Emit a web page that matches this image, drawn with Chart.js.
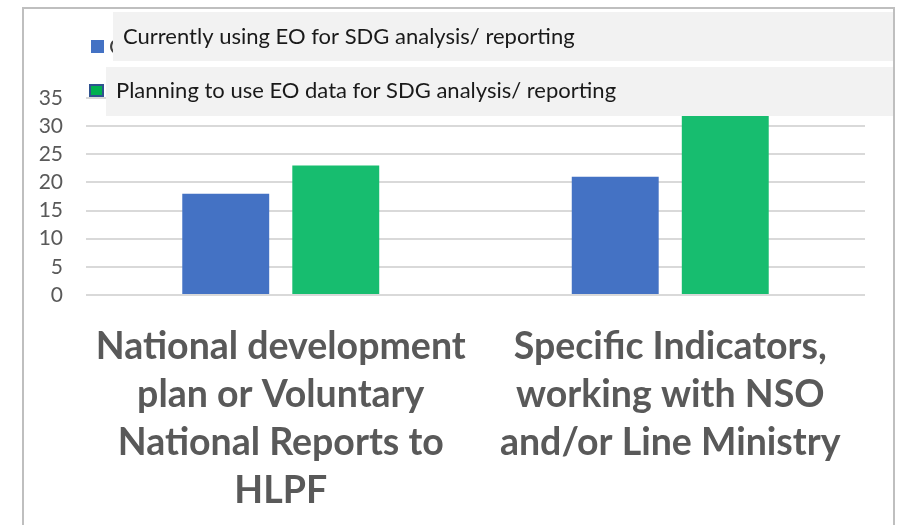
<!DOCTYPE html>
<html>
<head>
<meta charset="utf-8">
<script src="https://cdn.jsdelivr.net/npm/chart.js@4.4.1/dist/chart.umd.min.js"></script>
<style>
    html, body { margin: 0; padding: 0; background: #ffffff; }
    #wrap { width: 898px; height: 525px; }
</style>
</head>
<body>
<div id="wrap"><canvas id="eoChart" width="898" height="525"></canvas></div>
<script>
// Chart data
const categories = [
    ['National development', 'plan or Voluntary', 'National Reports to', 'HLPF'],
    ['Specific Indicators,', 'working with NSO', 'and/or Line Ministry']
];
const seriesNames = [
    'Currently using EO for SDG analysis/ reporting',
    'Planning to use EO data for SDG analysis/ reporting'
];
const currentlyUsing = [18, 21];
const planningToUse = [23, 32];
const yMin = 0;
const yMax = 35;
const yStep = 5;

const FONT = 'Lato, "Open Sans", sans-serif';

// White background and the grey frame around the chart
const framePlugin = {
    id: 'frame',
    beforeDraw(chart) {
        const c = chart.ctx;
        c.save();
        c.fillStyle = '#ffffff';
        c.fillRect(0, 0, chart.width, chart.height);
        c.strokeStyle = '#bfbfbf';
        c.lineWidth = 2;
        c.beginPath();
        c.moveTo(23, chart.height);
        c.lineTo(23, 8);
        c.lineTo(894, 8);
        c.lineTo(894, chart.height);
        c.stroke();
        c.restore();
    }
};

// Legend drawn as grey text boxes laid over the top of the plot
const boxLegendPlugin = {
    id: 'boxLegend',
    afterDraw(chart) {
        const c = chart.ctx;
        const ds = chart.data.datasets;
        c.save();
        c.font = '22px ' + FONT;
        c.textBaseline = 'middle';
        c.textAlign = 'left';

        // original legend entry, mostly hidden behind the box
        c.fillStyle = '#404040';
        c.fillText(ds[0].label, 109, 47);

        // entry 1
        c.fillStyle = ds[0].backgroundColor;
        c.fillRect(91, 40, 13, 13);
        c.fillStyle = '#f2f2f2';
        c.fillRect(113, 12, 780, 49);
        c.fillStyle = '#1a1a1a';
        c.fillText(ds[0].label, 123, 37);

        // entry 2
        c.fillStyle = '#00b050';
        c.fillRect(90, 85, 13, 11);
        c.strokeStyle = '#2f528f';
        c.lineWidth = 2;
        c.strokeRect(90, 85, 13, 11);
        c.fillStyle = '#f2f2f2';
        c.fillRect(106, 67, 787, 49);
        c.fillStyle = '#1a1a1a';
        c.fillText(ds[1].label, 116, 91);
        c.restore();
    }
};

const ctx = document.getElementById('eoChart').getContext('2d');
const eoChart = new Chart(ctx, {
    type: 'bar',
    data: {
        labels: categories,
        datasets: [
            {
                label: seriesNames[0],
                data: currentlyUsing,
                backgroundColor: '#4472c4'
            },
            {
                label: seriesNames[1],
                data: planningToUse,
                backgroundColor: '#17bd6f'
            }
        ]
    },
    options: {
        responsive: false,
        animation: false,
        categoryPercentage: 0.565,
        barPercentage: 0.79,
        layout: { padding: { top: 98, right: 33, left: 0, bottom: 0 } },
        plugins: {
            legend: { display: false },
            tooltip: { enabled: false }
        },
        scales: {
            x: {
                grid: { display: false, drawTicks: false },
                border: { display: false },
                ticks: {
                    color: '#595959',
                    padding: 28,
                    maxRotation: 0,
                    autoSkip: false,
                    font: { family: FONT, size: 37.5, weight: 'bold', lineHeight: 48 / 37.5 }
                },
                afterFit(scale) { scale.height = 230; }
            },
            y: {
                min: yMin,
                max: yMax,
                grid: { color: '#d9d9d9', lineWidth: 2, drawTicks: false },
                border: { display: false },
                ticks: {
                    stepSize: yStep,
                    autoSkip: false,
                    color: '#595959',
                    padding: 23,
                    font: { family: FONT, size: 21, lineHeight: 1 }
                },
                afterFit(scale) { scale.width = 86; }
            }
        }
    },
    plugins: [framePlugin, boxLegendPlugin]
});
</script>
</body>
</html>
